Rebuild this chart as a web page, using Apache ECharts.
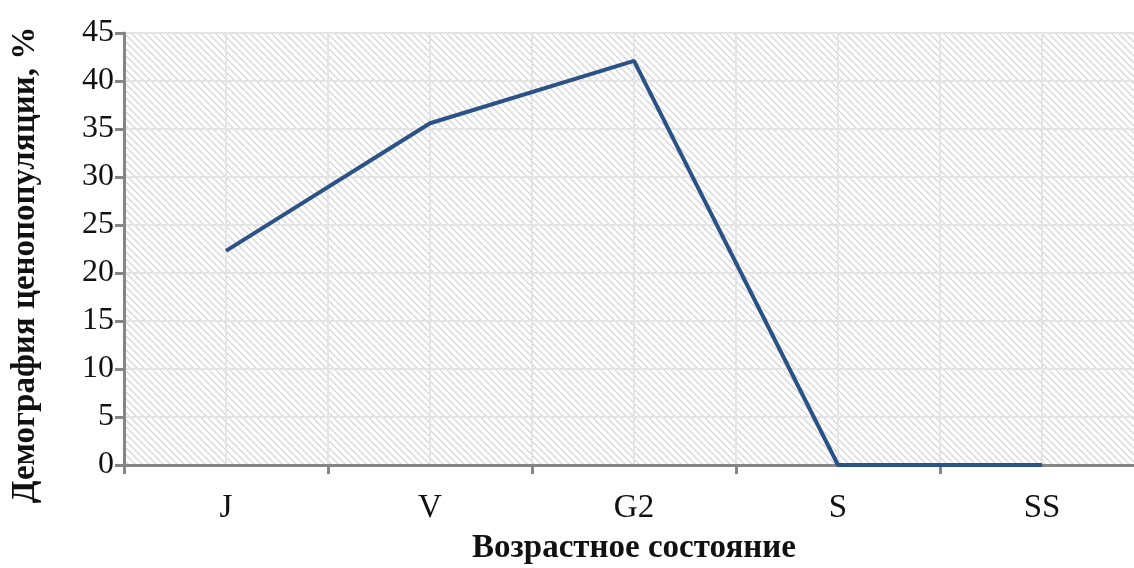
<!DOCTYPE html>
<html>
<head>
<meta charset="utf-8">
<script src="https://cdn.jsdelivr.net/npm/echarts@6/dist/echarts.min.js"></script>
<style>
  html, body { margin: 0; padding: 0; background: #fff; }
  #chart { width: 1134px; height: 568px; }
</style>
</head>
<body>
<div id="chart"></div>
<script>
// данные
var categories = ["J", "V", "G2", "S", "SS"]
var demography = [22.3, 35.6, 42.1, 0, 0]
var yTicks = [0, 5, 10, 15, 20, 25, 30, 35, 40, 45]

// штриховка фона
function makeHatch() {
	var size = 7
	var c = document.createElement("canvas")
	c.width = size
	c.height = size
	var ctx = c.getContext("2d")
	ctx.strokeStyle = "#d6d6d6"
	ctx.lineWidth = 1.3
	for (var k = -1; k <= 1; k++) {
		ctx.beginPath()
		ctx.moveTo(k * size, 0)
		ctx.lineTo(k * size + size, size)
		ctx.stroke()
	}
	return c
}

var serif = "'Liberation Serif', 'DejaVu Serif', serif"
var chart = echarts.init(document.getElementById("chart"))

var option = {
	animation: false,
	grid: {
		left: 124,
		top: 33,
		width: 1020,
		bottom: 103,
		outerBoundsMode: "none",
		containLabel: false,
		show: true,
		borderWidth: 0,
		backgroundColor: { image: makeHatch(), repeat: "repeat" }
	},
	xAxis: [
		{
			type: "category",
			data: categories,
			boundaryGap: true,
			axisLine: { lineStyle: { color: "#868686", width: 3 } },
			axisTick: { show: true, length: 9, lineStyle: { color: "#868686", width: 3 } },
			axisLabel: { color: "#111", fontFamily: serif, fontSize: 33, margin: 27 },
			splitLine: { show: false },
			name: "Возрастное состояние",
			nameLocation: "middle",
			nameGap: 67,
			nameTextStyle: { color: "#111", fontFamily: serif, fontSize: 33, fontWeight: "bold" }
		},
		{
			// вспомогательная ось для вертикальной сетки
			type: "value",
			min: 0,
			max: 5,
			interval: 0.5,
			position: "bottom",
			axisLine: { show: false },
			axisTick: { show: false },
			axisLabel: { show: false },
			splitLine: { show: true, lineStyle: { color: "#e4e4e4", width: 2, type: "solid" } }
		}
	],
	yAxis: {
		type: "value",
		min: yTicks[0],
		max: yTicks[yTicks.length - 1],
		interval: 5,
		axisLine: { show: true, lineStyle: { color: "#868686", width: 3 } },
		axisTick: { show: true, length: 9, lineStyle: { color: "#868686", width: 3 } },
		axisLabel: { color: "#111", fontFamily: serif, fontSize: 32, margin: 10 },
		splitLine: { show: true, lineStyle: { color: "#e4e4e4", width: 2, type: "solid" } },
		name: "Демография ценопопуляции, %",
		nameLocation: "middle",
		nameRotate: 90,
		nameGap: 82,
		nameTextStyle: { color: "#111", fontFamily: serif, fontSize: 33, fontWeight: "bold", padding: [0, 32, 0, 0] }
	},
	series: [
		{
			type: "line",
			xAxisIndex: 0,
			data: demography,
			symbol: "none",
			lineStyle: { color: "#2b5287", width: 4 },
			z: 5
		}
	]
}
chart.setOption(option)
</script>
</body>
</html>
